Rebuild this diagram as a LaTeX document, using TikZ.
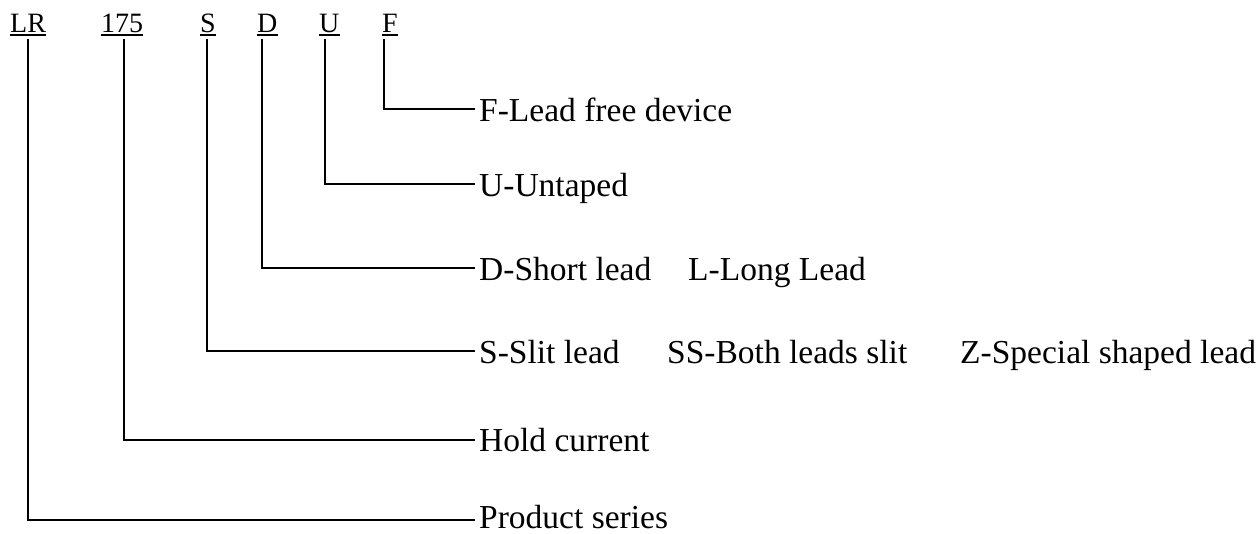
\documentclass[tikz,border=0pt]{standalone}
\usepackage{fontspec}
\setmainfont{Liberation Serif}
\begin{document}
\begin{tikzpicture}[x=1pt,y=-1pt,
  code/.style={anchor=base west,inner sep=0pt,font=\fontsize{28}{30}\selectfont},
  desc/.style={anchor=base west,inner sep=0pt,font=\fontsize{33.5}{36}\selectfont},
  lead/.style={line width=1.6pt},
  uline/.style={line width=1.4pt}]
\useasboundingbox (0,0) rectangle (1257,533);
% top codes
\node[code] (lr) at (10,32) {LR};
\node[code] (hc) at (101,32) {175};
\node[code] (s) at (200,32) {S};
\node[code] (d) at (257,32) {D};
\node[code] (u) at (319,32) {U};
\node[code] (f) at (382,32) {F};
\foreach \n in {lr,hc,s,d,u,f}
  \draw[uline] ([yshift=-3pt]\n.base west) -- ([yshift=-3pt]\n.base east);
% descriptions
\node[desc] (tf) at (479,121) {F-Lead free device};
\node[desc] (tu) at (479,196) {U-Untaped};
\node[desc] (td) at (479,280) {D-Short lead};
\node[desc] (td2) at (688,280) {L-Long Lead};
\node[desc] (ts) at (479,363) {S-Slit lead};
\node[desc] (ts2) at (667,363) {SS-Both leads slit};
\node[desc] (ts3) at (960,363) {Z-Special shaped lead};
\node[desc] (th) at (479,451) {Hold current};
\node[desc] (tp) at (479,528) {Product series};
% connector end points
\coordinate (ef) at (475,109);
\coordinate (eu) at (475,184);
\coordinate (ed) at (475,268);
\coordinate (es) at (475,351);
\coordinate (eh) at (475,440);
\coordinate (ep) at (475,520);
\draw[lead] (384,39) |- (ef);
\draw[lead] (325,39) |- (eu);
\draw[lead] (262,39) |- (ed);
\draw[lead] (207,39) |- (es);
\draw[lead] (124,39) |- (eh);
\draw[lead] (28,39) |- (ep);
\end{tikzpicture}
\end{document}
